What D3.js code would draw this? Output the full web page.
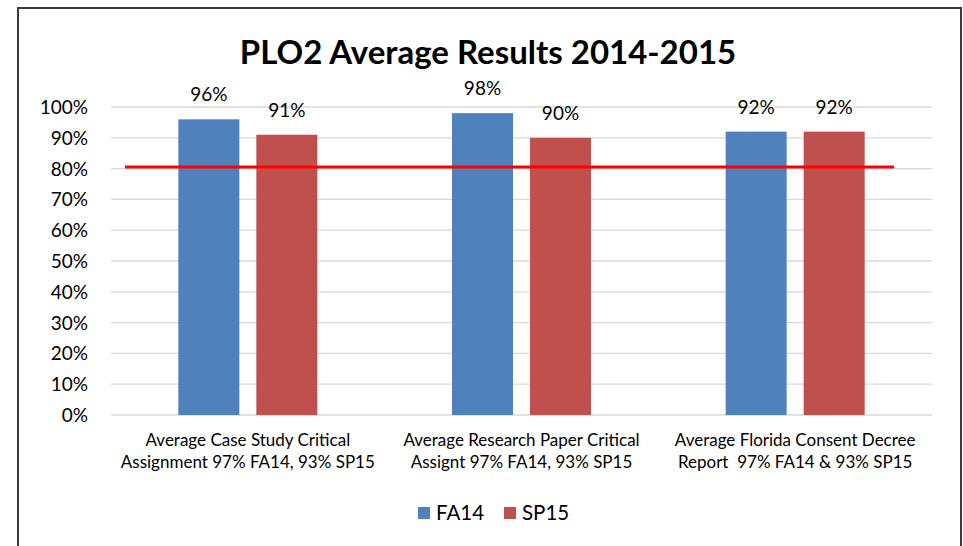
<!DOCTYPE html>
<html>
<head>
<meta charset="utf-8">
<script src="https://cdn.jsdelivr.net/npm/d3@7"></script>
<style>
body { margin: 0; background: #fff; }
text { font-family: Lato, "Open Sans", sans-serif; fill: #000; }
</style>
</head>
<body>
<svg id="chart" width="963" height="546"></svg>
<script>
// chart data
var categories = [
	["Average Case Study Critical", "Assignment 97% FA14, 93% SP15"],
	["Average Research Paper Critical", "Assignt 97% FA14, 93% SP15"],
	["Average Florida Consent Decree", "Report  97% FA14 & 93% SP15"]
];
var seriesNames = ["FA14", "SP15"];
var fa14 = [0.96, 0.98, 0.92];
var sp15 = [0.91, 0.90, 0.92];
var yTicks = [0, 0.1, 0.2, 0.3, 0.4, 0.5, 0.6, 0.7, 0.8, 0.9, 1.0];
var targetLine = 0.805;

var colors = ["#4F81BD", "#C0504D"];

var svg = d3.select("#chart");

// outer frame
svg.append("rect")
	.attr("x", 18).attr("y", 8)
	.attr("width", 943).attr("height", 560)
	.attr("fill", "#fff")
	.attr("stroke", "#3a3a42")
	.attr("stroke-width", 2);

svg.append("text")
	.attr("x", 488).attr("y", 64)
	.attr("text-anchor", "middle")
	.attr("font-size", 33)
	.attr("font-weight", "bold")
	.text("PLO2 Average Results 2014-2015");

var plotL = 111, plotR = 932, plotT = 107, plotB = 415;

var x = d3.scaleBand().domain(d3.range(categories.length)).range([plotL, plotR]);
var y = d3.scaleLinear().domain([0, 1]).range([plotB, plotT]);

// gridlines
svg.append("g").selectAll("line")
	.data(yTicks)
	.join("line")
	.attr("x1", plotL).attr("x2", plotR)
	.attr("y1", function(d){ return y(d); })
	.attr("y2", function(d){ return y(d); })
	.attr("stroke", "#d9d9d9")
	.attr("stroke-width", 1.3);

// y labels
svg.append("g").selectAll("text")
	.data(yTicks)
	.join("text")
	.attr("x", 88)
	.attr("y", function(d){ return y(d) + 7; })
	.attr("text-anchor", "end")
	.attr("font-size", 19)
	.text(d3.format(".0%"));

var barW = 61, gap = 17;
var series = [fa14, sp15];

series.forEach(function(vals, s)
{
	var off = s == 0 ? -(gap / 2 + barW) : gap / 2;
	var g = svg.append("g");
	g.selectAll("rect")
		.data(vals)
		.join("rect")
		.attr("x", function(d, i){ return x(i) + x.bandwidth() / 2 + off; })
		.attr("y", function(d){ return y(d); })
		.attr("width", barW)
		.attr("height", function(d){ return plotB - y(d); })
		.attr("fill", colors[s]);
	g.selectAll("text")
		.data(vals)
		.join("text")
		.attr("x", function(d, i){ return x(i) + x.bandwidth() / 2 + off + barW / 2; })
		.attr("y", function(d){ return y(d) - 18; })
		.attr("text-anchor", "middle")
		.attr("font-size", 19)
		.text(d3.format(".0%"));
});

// target line
svg.append("line")
	.attr("x1", 125).attr("x2", 894)
	.attr("y1", y(targetLine)).attr("y2", y(targetLine))
	.attr("stroke", "#ff0000")
	.attr("stroke-width", 3);

// category labels
categories.forEach(function(lines, i)
{
	var t = svg.append("text")
		.attr("text-anchor", "middle")
		.attr("font-size", 17);
	lines.forEach(function(l, k)
	{
		t.append("tspan")
			.attr("x", x(i) + x.bandwidth() / 2)
			.attr("y", 446 + k * 22)
			.attr("xml:space", "preserve")
			.text(l);
	});
});

// legend
var legX = [418, 504];
seriesNames.forEach(function(n, s)
{
	svg.append("rect")
		.attr("x", legX[s]).attr("y", 507)
		.attr("width", 12).attr("height", 12)
		.attr("fill", colors[s]);
	svg.append("text")
		.attr("x", legX[s] + 18).attr("y", 520)
		.attr("font-size", 20.5)
		.text(n);
});
</script>
</body>
</html>
